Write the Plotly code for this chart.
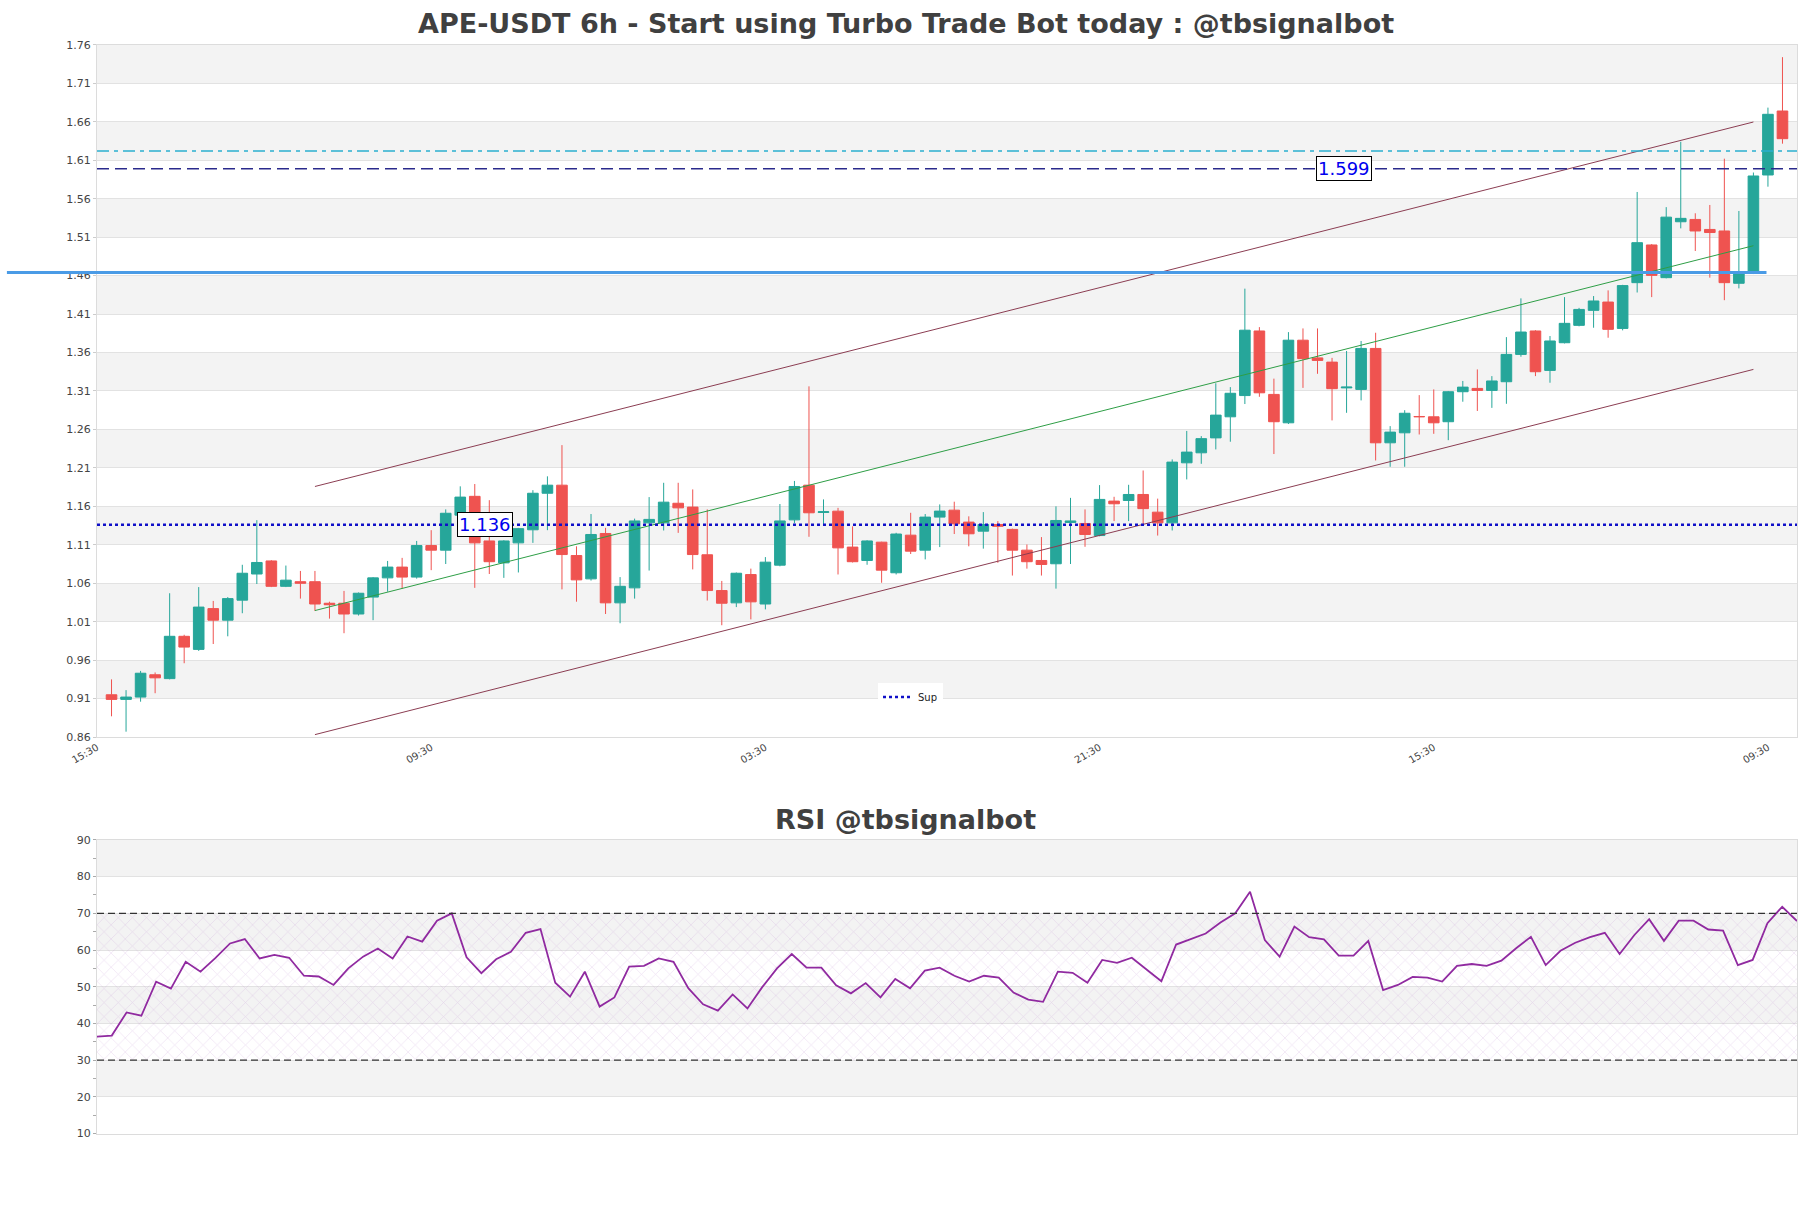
import plotly.graph_objects as go

# ---------------- data ----------------
opens = [0.915, 0.909, 0.912, 0.941, 0.936, 0.991, 0.974, 1.027, 1.012, 1.038,
         1.072, 1.089, 1.056, 1.062, 1.062, 1.034, 1.034, 1.020, 1.042, 1.067,
         1.081, 1.068, 1.109, 1.103, 1.1485, 1.173, 1.115, 1.0865, 1.1125, 1.1295,
         1.177, 1.1875, 1.096, 1.0657, 1.1247, 1.0345, 1.054, 1.1385, 1.1385, 1.164,
         1.159, 1.097, 1.0505, 1.0345, 1.0713, 1.033, 1.0835, 1.1424, 1.1875, 1.152,
         1.1537, 1.107, 1.0896, 1.1134, 1.0736, 1.1225, 1.103, 1.146, 1.155, 1.1395,
         1.1277, 1.1364, 1.130, 1.103, 1.0896, 1.0853, 1.139, 1.1377, 1.122, 1.1668,
         1.1676, 1.1754, 1.1524, 1.1385, 1.2166, 1.2296, 1.249, 1.2764, 1.304, 1.388,
         1.3055, 1.2686, 1.376, 1.353, 1.3475, 1.314, 1.312, 1.3653, 1.2426, 1.2556,
         1.2768, 1.2764, 1.27, 1.309, 1.3133, 1.3107, 1.322, 1.3575, 1.388, 1.3367,
         1.3727, 1.3953, 1.4148, 1.4256, 1.3913, 1.4508, 1.4998, 1.4573, 1.530, 1.533,
         1.52, 1.518, 1.45, 1.463, 1.5908, 1.674]
highs = [0.935, 0.921, 0.946, 0.944, 1.047, 0.993, 1.055, 1.037, 1.042, 1.084,
         1.142, 1.090, 1.083, 1.076, 1.076, 1.036, 1.050, 1.048, 1.068, 1.089,
         1.093, 1.115, 1.129, 1.156, 1.186, 1.189, 1.168, 1.116, 1.132, 1.181,
         1.199, 1.2396, 1.108, 1.150, 1.132, 1.068, 1.144, 1.172, 1.1906, 1.1906,
         1.182, 1.156, 1.063, 1.074, 1.079, 1.094, 1.163, 1.193, 1.316, 1.169,
         1.158, 1.134, 1.116, 1.114, 1.1256, 1.1516, 1.150, 1.1625, 1.166, 1.147,
         1.1525, 1.1408, 1.131, 1.1104, 1.12, 1.16, 1.171, 1.156, 1.1876, 1.1724,
         1.188, 1.2066, 1.170, 1.221, 1.258, 1.2513, 1.32, 1.315, 1.443, 1.393,
         1.326, 1.3865, 1.3913, 1.3913, 1.353, 1.362, 1.375, 1.3857, 1.2643, 1.285,
         1.3046, 1.312, 1.310, 1.323, 1.338, 1.3293, 1.380, 1.4304, 1.389, 1.3814,
         1.432, 1.418, 1.4334, 1.4408, 1.448, 1.5687, 1.501, 1.549, 1.634, 1.541,
         1.5518, 1.612, 1.544, 1.594, 1.6784, 1.744]
lows = [0.887, 0.867, 0.906, 0.917, 0.935, 0.956, 0.972, 0.981, 0.991, 1.021,
        1.059, 1.055, 1.055, 1.040, 1.024, 1.014, 0.995, 1.018, 1.012, 1.049,
        1.053, 1.066, 1.077, 1.085, 1.147, 1.054, 1.072, 1.067, 1.074, 1.1125,
        1.129, 1.052, 1.036, 1.0635, 1.020, 1.008, 1.040, 1.0765, 1.1286, 1.1255,
        1.078, 1.0375, 1.0054, 1.029, 1.013, 1.026, 1.082, 1.138, 1.1204, 1.1355,
        1.0714, 1.087, 1.084, 1.0606, 1.0714, 1.098, 1.091, 1.107, 1.124, 1.108,
        1.105, 1.0866, 1.070, 1.079, 1.07, 1.053, 1.085, 1.1074, 1.121, 1.1408,
        1.1408, 1.1364, 1.122, 1.1286, 1.195, 1.2153, 1.234, 1.244, 1.293, 1.3024,
        1.228, 1.267, 1.314, 1.3323, 1.2717, 1.2816, 1.2977, 1.2196, 1.2114, 1.2114,
        1.2534, 1.2543, 1.246, 1.296, 1.284, 1.288, 1.2933, 1.3545, 1.3293, 1.3207,
        1.3718, 1.394, 1.3922, 1.3792, 1.3888, 1.438, 1.432, 1.4564, 1.5214, 1.492,
        1.4573, 1.428, 1.4434, 1.462, 1.5756, 1.6315]
closes = [0.909, 0.912, 0.943, 0.937, 0.991, 0.977, 1.029, 1.012, 1.040, 1.073,
          1.087, 1.056, 1.064, 1.060, 1.033, 1.032, 1.020, 1.047, 1.067, 1.081,
          1.068, 1.109, 1.103, 1.151, 1.172, 1.1125, 1.088, 1.115, 1.131, 1.177,
          1.1875, 1.0973, 1.0644, 1.1234, 1.0345, 1.056, 1.141, 1.143, 1.1654, 1.158,
          1.0973, 1.0505, 1.034, 1.073, 1.0358, 1.0874, 1.141, 1.1858, 1.1516, 1.153,
          1.106, 1.088, 1.115, 1.077, 1.124, 1.1017, 1.146, 1.1538, 1.1373, 1.1243,
          1.1364, 1.134, 1.103, 1.088, 1.0844, 1.1416, 1.141, 1.1234, 1.169, 1.1633,
          1.1754, 1.157, 1.1385, 1.2175, 1.2305, 1.248, 1.2786, 1.307, 1.389, 1.3076,
          1.270, 1.376, 1.352, 1.3497, 1.313, 1.315, 1.3653, 1.2426, 1.2565, 1.281,
          1.2765, 1.2686, 1.309, 1.315, 1.3107, 1.323, 1.3575, 1.3866, 1.335, 1.375,
          1.3979, 1.416, 1.427, 1.3901, 1.447, 1.5028, 1.4603, 1.536, 1.5344, 1.518,
          1.516, 1.4508, 1.463, 1.5895, 1.6697, 1.638]

rsi = [36.4, 36.7, 43.0, 42.1, 51.4, 49.5, 56.8, 54.1, 57.8, 61.8,
       63.0, 57.7, 58.7, 57.9, 53.0, 52.8, 50.5, 55.0, 58.2, 60.4,
       57.7, 63.7, 62.3, 68.0, 70.0, 58.0, 53.7, 57.5, 59.5, 64.7,
       65.7, 51.1, 47.3, 54.1, 44.6, 47.1, 55.5, 55.7, 57.7, 56.8,
       49.6, 45.2, 43.5, 47.9, 44.1, 49.9, 55.0, 58.9, 55.2, 55.2,
       50.4, 48.2, 51.0, 47.1, 52.1, 49.6, 54.4, 55.2, 53.0, 51.4,
       53.0, 52.5, 48.4, 46.5, 45.9, 54.1, 53.8, 51.1, 57.3, 56.5,
       57.9, 54.7, 51.5, 61.5, 62.9, 64.5, 67.5, 70.0, 75.9, 62.7,
       58.2, 66.4, 63.5, 62.9, 58.5, 58.5, 62.5, 49.1, 50.5, 52.7,
       52.5, 51.4, 55.7, 56.2, 55.7, 57.1, 60.5, 63.6, 55.9, 59.8,
       62.0, 63.5, 64.7, 58.9, 64.1, 68.4, 62.5, 68.0, 68.0, 65.6,
       65.3, 55.9, 57.3, 67.3, 71.8, 67.9]

x_tick_labels = ["15:30", "09:30", "03:30", "21:30", "15:30", "09:30"]
x_tick_index = [-1, 22, 45, 68, 91, 114]

sup_level = 1.136
res_level = 1.599
cyan_level = 1.622
blue_level = 1.464
blue_span = [-7.2, 113.9]

channel_x = [14, 113]
channel_upper = [1.1858, 1.6597]
channel_lower = [0.8632, 1.3380]
channel_mid = [(a + b) / 2 for a, b in zip(channel_upper, channel_lower)]

rsi_upper, rsi_lower = 70, 30
price_ticks = [round(0.86 + 0.05 * k, 2) for k in range(19)]
rsi_ticks = list(range(10, 91, 10))

# ---------------- figure ----------------
n = len(closes)
xs = list(range(n))
X_RANGE = [-1, n]
W, H = 1811, 1208
ML, MR = 97, 14


def py(px):
    # pixel row (from top) -> paper fraction, with small empirical correction
    return 1 - ((px - 5.0) / 0.9905) / H


main_dom = [py(737), py(43.9)]
rsi_dom = [py(1134), py(840)]


def to_paper(xv):
    return (xv - X_RANGE[0]) / (X_RANGE[1] - X_RANGE[0])


fig = go.Figure()

fig.add_trace(go.Candlestick(
    x=xs, open=opens, high=highs, low=lows, close=closes,
    increasing=dict(line=dict(color="#26a69a", width=1), fillcolor="#26a69a"),
    decreasing=dict(line=dict(color="#ef5350", width=1), fillcolor="#ef5350"),
    showlegend=False, xaxis="x", yaxis="y", name="APE-USDT"))

# channel
fig.add_trace(go.Scatter(x=channel_x, y=channel_upper, mode="lines",
                         line=dict(color="#8b3d52", width=1), showlegend=False))
fig.add_trace(go.Scatter(x=channel_x, y=channel_lower, mode="lines",
                         line=dict(color="#8b3d52", width=1), showlegend=False))
fig.add_trace(go.Scatter(x=channel_x, y=channel_mid, mode="lines",
                         line=dict(color="#2e9e46", width=1), showlegend=False))

# support line (legend "Sup")
fig.add_trace(go.Scatter(x=[X_RANGE[0], X_RANGE[1]], y=[sup_level, sup_level], mode="lines",
                         line=dict(color="#1010c8", width=2.5, dash="dot"), name="Sup",
                         showlegend=True))

# RSI hatch zone
fig.add_trace(go.Scatter(x=[0, n - 1], y=[rsi_lower, rsi_lower], mode="lines",
                         line=dict(width=0), showlegend=False, xaxis="x2", yaxis="y2",
                         hoverinfo="skip"))
fig.add_trace(go.Scatter(x=[0, n - 1], y=[rsi_upper, rsi_upper], mode="lines",
                         line=dict(width=0), fill="tonexty",
                         fillcolor="rgba(0,0,0,0)",
                         fillpattern=dict(shape="x", fgcolor="rgba(185,130,205,0.55)",
                                          bgcolor="rgba(0,0,0,0)", size=10, solidity=0.12),
                         showlegend=False, xaxis="x2", yaxis="y2", hoverinfo="skip"))
fig.add_trace(go.Scatter(x=xs, y=rsi, mode="lines",
                         line=dict(color="#902aa0", width=1.8),
                         showlegend=False, xaxis="x2", yaxis="y2"))

shapes = []
# alternating bands main
for k in range(len(price_ticks) - 1):
    if k % 2 == 1:
        shapes.append(dict(type="rect", xref="x domain", yref="y", x0=0, x1=1,
                           y0=price_ticks[k], y1=price_ticks[k + 1],
                           fillcolor="#f3f3f3", line=dict(width=0), layer="below"))
for k in range(len(rsi_ticks) - 1):
    if k % 2 == 1:
        shapes.append(dict(type="rect", xref="x2 domain", yref="y2", x0=0, x1=1,
                           y0=rsi_ticks[k], y1=rsi_ticks[k + 1],
                           fillcolor="#f3f3f3", line=dict(width=0), layer="below"))
# horizontal levels
shapes.append(dict(type="line", xref="x domain", yref="y", x0=0, x1=1,
                   y0=cyan_level, y1=cyan_level,
                   line=dict(color="#2bb0cf", width=1.3, dash="12px,5px,4px,5px")))
shapes.append(dict(type="line", xref="x domain", yref="y", x0=0, x1=1,
                   y0=res_level, y1=res_level,
                   line=dict(color="#2a2a8c", width=1.5, dash="12px,6px")))
shapes.append(dict(type="line", xref="paper", yref="y",
                   x0=to_paper(blue_span[0]), x1=to_paper(blue_span[1]),
                   y0=blue_level, y1=blue_level,
                   line=dict(color="#4a9be6", width=3)))
# RSI dashed lines
for lv in (rsi_upper, rsi_lower):
    shapes.append(dict(type="line", xref="x2 domain", yref="y2", x0=0, x1=1,
                       y0=lv, y1=lv, line=dict(color="#333333", width=1.2, dash="7px,4px")))

title_x = (W / 2 - ML) / (W - ML - MR)
annotations = [
    dict(text="<b>APE-USDT 6h - Start using Turbo Trade Bot today : @tbsignalbot</b>",
         xref="paper", yref="paper", x=title_x, y=py(22.5),
         showarrow=False, font=dict(family="DejaVu Sans", size=27, color="#404040"),
         xanchor="center", yanchor="middle"),
    dict(text="<b>RSI @tbsignalbot</b>",
         xref="paper", yref="paper", x=title_x, y=py(820),
         showarrow=False, font=dict(family="DejaVu Sans", size=27, color="#404040"),
         xanchor="center", yanchor="middle"),
    dict(text=f"{sup_level:.3f}", x=25.7, y=sup_level, xref="x", yref="y", showarrow=False,
         font=dict(family="DejaVu Sans", size=18, color="#0000ee"),
         bgcolor="white", bordercolor="black", borderwidth=1, borderpad=1),
    dict(text=f"{res_level:.3f}", x=84.8, y=res_level, xref="x", yref="y", showarrow=False,
         font=dict(family="DejaVu Sans", size=18, color="#0000ee"),
         bgcolor="white", bordercolor="black", borderwidth=1, borderpad=1),
]

axis_font = dict(family="DejaVu Sans", size=11, color="#444444")
fig.update_layout(
    width=W, height=H,
    margin=dict(l=ML, r=MR, t=0, b=0),
    paper_bgcolor="white", plot_bgcolor="white",
    boxgap=0.27, boxgroupgap=0,
    font=dict(family="DejaVu Sans"),
    xaxis=dict(domain=[0, 1], range=X_RANGE, anchor="y",
               tickmode="array", tickvals=x_tick_index, ticktext=x_tick_labels,
               tickangle=-30, tickfont=dict(family="DejaVu Sans", size=10, color="#444444"),
               showgrid=False, zeroline=False,
               showline=True, mirror=True, linecolor="#dcdcdc", linewidth=1,
               ticks="", rangeslider=dict(visible=False)),
    yaxis=dict(domain=main_dom, range=[price_ticks[0], price_ticks[-1]], anchor="x",
               tickmode="array", tickvals=price_ticks,
               ticktext=[f"{v:.2f}" for v in price_ticks],
               tickfont=axis_font, showgrid=True, gridcolor="#e2e2e2", gridwidth=1,
               zeroline=False, showline=True, mirror=True, linecolor="#dcdcdc",
               ticks="outside", ticklen=3, tickcolor="#cccccc"),
    xaxis2=dict(domain=[0, 1], range=[0, n - 1], anchor="y2", showticklabels=False,
                showgrid=False, zeroline=False, showline=True, mirror=True,
                linecolor="#dcdcdc"),
    yaxis2=dict(domain=rsi_dom, range=[rsi_ticks[0], rsi_ticks[-1]], anchor="x2",
                tickmode="array", tickvals=rsi_ticks, tickfont=axis_font,
                showgrid=True, gridcolor="#e2e2e2", zeroline=False,
                showline=True, mirror=True, linecolor="#dcdcdc",
                ticks="outside", ticklen=3, tickcolor="#aaaaaa",
                minor=dict(tickmode="array", tickvals=[v + 5 for v in rsi_ticks[:-1]],
                           ticks="outside", ticklen=3, tickcolor="#aaaaaa", showgrid=False)),
    shapes=shapes,
    annotations=annotations,
    showlegend=True,
    legend=dict(x=(878 - ML) / (W - ML - MR), y=py(697), xanchor="left", yanchor="middle",
                bgcolor="white", font=dict(family="DejaVu Sans", size=10, color="#222222"),
                itemwidth=30, tracegroupgap=0),
)

fig.write_html("out.html", config={"displayModeBar": False},
               post_script="document.body.style.margin='0';")
